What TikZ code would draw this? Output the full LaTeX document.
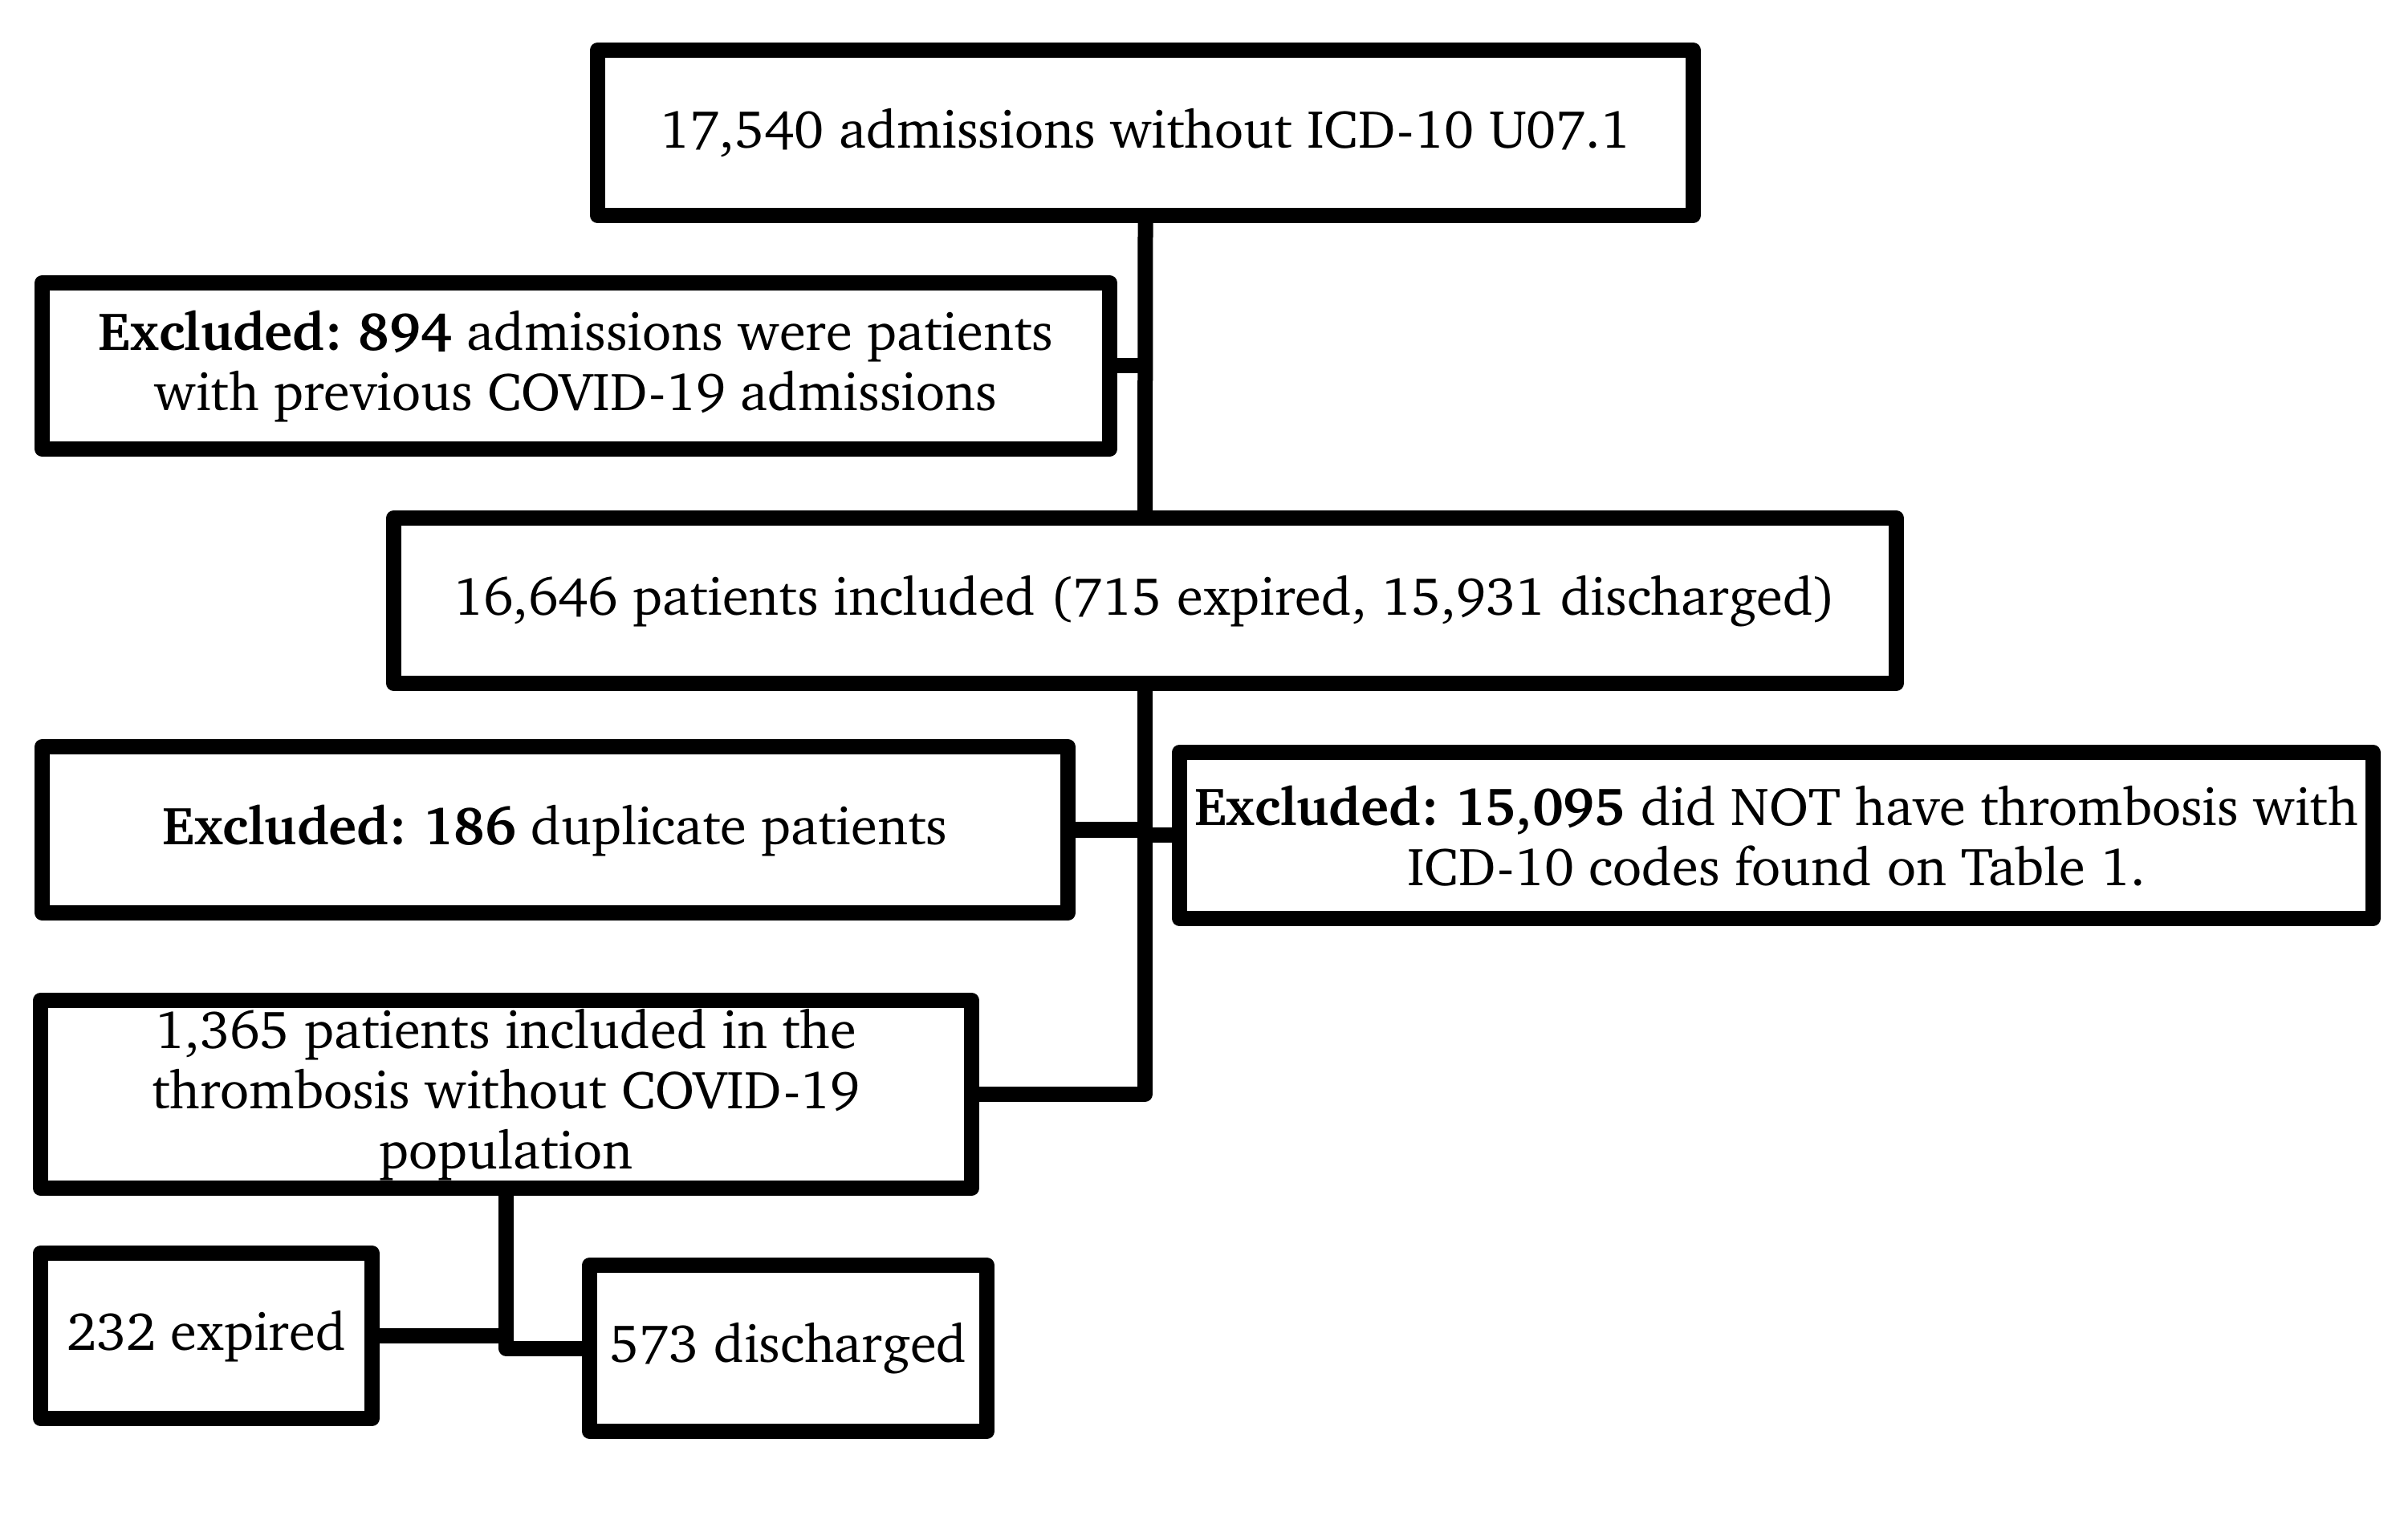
\documentclass[tikz,border=0pt]{standalone}
\usepackage[T1]{fontenc}
\usepackage{charter}
\frenchspacing
\begin{document}
\begin{tikzpicture}[
  line join=round,
  box/.style={draw, line width=0.19cm, rectangle, inner sep=0pt, align=center,
    font=\fontsize{19}{21.3}\selectfont\frenchspacing},
  link/.style={line width=0.19cm}
]
\useasboundingbox (0,0) rectangle (30,18.93);
\node[box, minimum width=13.65cm, minimum height=2.06cm] (b1) at (14.27,17.275)
  {17,540 admissions without ICD-10 U07.1};
\node[box, minimum width=13.30cm, minimum height=2.07cm] (b2) at (7.175,14.37)
  {\textbf{Excluded: 894} admissions were patients\\with previous COVID-19 admissions};
\node[box, minimum width=18.72cm, minimum height=2.06cm] (b3) at (14.265,11.445)
  {16,646 patients included (715 expired, 15,931 discharged)};
\node[box, minimum width=12.78cm, minimum height=2.07cm] (b4) at (6.915,8.59)
  {\textbf{Excluded: 186} duplicate patients};
\node[box, minimum width=14.87cm, minimum height=2.07cm] (b5) at (22.13,8.52)
  {\textbf{Excluded: 15,095} did NOT have thrombosis with\\ICD-10 codes found on Table 1.};
\node[box, minimum width=11.60cm, minimum height=2.34cm] (b6) at (6.305,5.295)
  {1,365 patients included in the\\thrombosis without COVID-19\\population};
\node[box, minimum width=4.13cm, minimum height=2.06cm] (b7) at (2.57,2.285)
  {232 expired};
\node[box, minimum width=4.95cm, minimum height=2.07cm] (b8) at (9.82,2.13)
  {573 discharged};
\draw[link] (b1.south) -- (b3.north);
\draw[link] (b2.east) -- (b2.east -| b1.south);
\draw[link] (b3.south) |- (b6.east);
\draw[link] (b4.east) -- (b4.east -| b3.south);
\draw[link] (b5.west) -- (b5.west -| b3.south);
\draw[link] (b6.south) |- (b8.west);
\draw[link] (b7.east) -- (b7.east -| b6.south);
\end{tikzpicture}
\end{document}
